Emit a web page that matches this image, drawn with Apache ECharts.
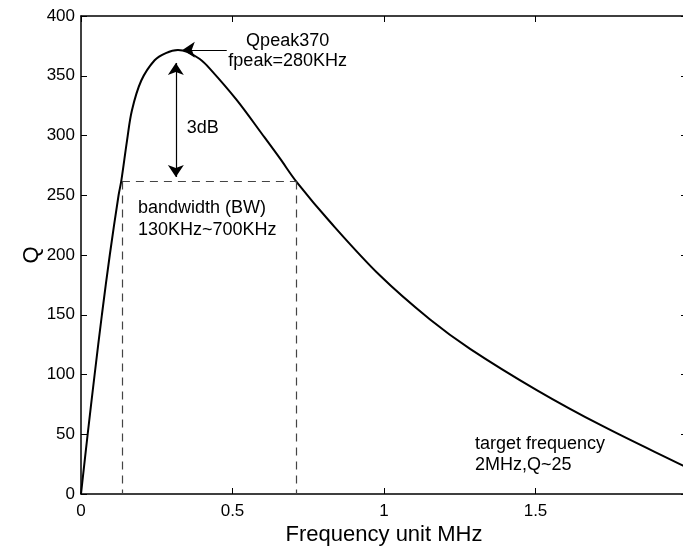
<!DOCTYPE html>
<html><head><meta charset="utf-8">
<script src="https://cdn.jsdelivr.net/npm/echarts@6/dist/echarts.min.js"></script>
<style>html,body{margin:0;padding:0;background:#fff}#c{width:683px;height:549px}</style>
</head><body><div id="c"></div>
<script>
// ---- data ----
const freq    = [0, 0.022, 0.045, 0.069, 0.095, 0.124, 0.133, 0.152, 0.168, 0.199, 0.243, 0.28, 0.32, 0.35, 0.392, 0.425, 0.513, 0.601, 0.656, 0.712, 0.821, 0.986, 1.152, 1.284, 1.504, 1.724, 1.987, 2.0];
const qValues = [0, 50, 100, 150, 200, 250, 262, 296, 321, 346, 363, 369, 371.5, 370, 364, 356, 330, 300, 281, 261, 228, 183, 146, 121.5, 87, 56.5, 23.7, 22];
const xTickValues = [0, 0.5, 1, 1.5, 2];
const yTickValues = [0, 50, 100, 150, 200, 250, 300, 350, 400];
const xTickLabels = ['0', '0.5', '1', '1.5', '2'];
const bandLow = 0.135, bandHigh = 0.711, bandQ = 261.5;
const dbArrowF = 0.313, dbArrowTop = 360.7, dbArrowBottom = 265.3;
const peakArrowFrom = [0.481, 371.7], peakArrowTo = [0.336, 371.7];
const noteTexts = ['Qpeak370', 'fpeak=280KHz', '3dB', 'bandwidth (BW)', '130KHz~700KHz', 'target frequency', '2MHz,Q~25'];
const noteF     = [0.682, 0.682, 0.349, 0.188, 0.188, 1.30, 1.30];
const noteQ     = [379, 362, 306, 239.4, 221, 42, 24.5];
const noteAlign = ['center', 'center', 'left', 'left', 'left', 'left', 'left'];

const FONT = "'Liberation Sans', Arial, Helvetica, sans-serif";
const chart = echarts.init(document.getElementById('c'), null, {renderer: 'canvas'});
const axisCommon = {
  type: 'value',
  axisLine: {show: true, onZero: false, lineStyle: {color: '#000', width: 1.5}},
  axisTick: {show: true, inside: true, length: 6, lineStyle: {color: '#000', width: 1}},
  splitLine: {show: false}
};
const option = {
  animation: false,
  backgroundColor: '#fff',
  grid: {left: 81, top: 16, width: 606, height: 478, containLabel: false, outerBoundsMode: 'none'},
  xAxis: [
    Object.assign({}, axisCommon, {
      min: 0, max: 2, interval: 0.5, position: 'bottom',
      axisLabel: {color: '#000', fontSize: 17, fontFamily: FONT, margin: 9, showMaxLabel: true, showMinLabel: true, hideOverlap: false,
        formatter: v => xTickLabels[xTickValues.indexOf(v)] ?? String(v)},
      name: 'Frequency unit MHz', nameLocation: 'middle', nameGap: 30, nameMoveOverlap: false,
      nameTextStyle: {color: '#000', fontSize: 22, fontFamily: FONT}
    }),
    Object.assign({}, axisCommon, {
      min: 0, max: 2, interval: 0.5, position: 'top', axisLabel: {show: false}
    })
  ],
  yAxis: [
    Object.assign({}, axisCommon, {
      min: 0, max: 400, interval: 50, position: 'left',
      axisLabel: {color: '#000', fontSize: 17, fontFamily: FONT, margin: 6},
      name: 'Q', nameLocation: 'middle', nameGap: 38, nameMoveOverlap: false,
      nameTextStyle: {color: '#000', fontSize: 22, fontFamily: FONT}
    }),
    Object.assign({}, axisCommon, {
      min: 0, max: 400, interval: 50, position: 'right', axisLabel: {show: false}
    })
  ],
  series: [
    {
      type: 'line', xAxisIndex: 0, yAxisIndex: 0,
      data: freq.map((f, i) => [f, qValues[i]]),
      showSymbol: false, smooth: 0.35,
      lineStyle: {color: '#000', width: 2},
      silent: true
    },
    {
      type: 'line', data: [], silent: true,
      markLine: {
        silent: true, symbol: 'none', label: {show: false},
        lineStyle: {color: '#444', width: 1.2, type: [8, 6]},
        data: [
          [{coord: [bandLow, bandQ]}, {coord: [bandHigh, bandQ]}],
          [{coord: [bandLow, bandQ]}, {coord: [bandLow, 0]}],
          [{coord: [bandHigh, bandQ]}, {coord: [bandHigh, 0]}]
        ]
      }
    },
    {
      type: 'line', data: [], silent: true,
      markLine: {
        silent: true, label: {show: false}, symbolSize: 12,
        lineStyle: {color: '#000', width: 1.2, type: 'solid'},
        data: [
          [{coord: [dbArrowF, dbArrowTop], symbol: 'arrow'}, {coord: [dbArrowF, dbArrowBottom], symbol: 'arrow'}],
          [{coord: peakArrowFrom, symbol: 'none'}, {coord: peakArrowTo, symbol: 'arrow'}]
        ]
      }
    }
  ]
};
chart.setOption(option);

const graphics = noteTexts.map((t, i) => {
  const p = chart.convertToPixel({xAxisIndex: 0, yAxisIndex: 0}, [noteF[i], noteQ[i]]);
  return {
    type: 'text', x: p[0], y: p[1], silent: true,
    style: {text: t, fill: '#000', font: '18px ' + FONT, textAlign: noteAlign[i], textVerticalAlign: 'middle'}
  };
});
chart.setOption({graphic: graphics});
</script>
</body></html>
